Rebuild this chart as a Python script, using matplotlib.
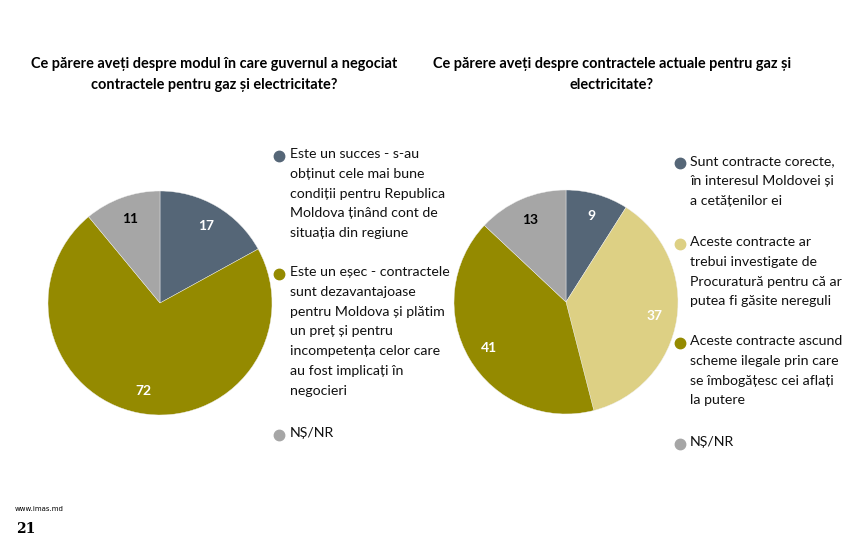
import matplotlib.pyplot as plt
from matplotlib.lines import Line2D

# --- date ---
left_title = "Ce părere aveți despre modul în care guvernul a negociat\ncontractele pentru gaz și electricitate?"
left_values = [17, 72, 11]
left_labels = [
    "Este un succes - s-au\nobținut cele mai bune\ncondiții pentru Republica\nMoldova ținând cont de\nsituația din regiune",
    "Este un eșec - contractele\nsunt dezavantajoase\npentru Moldova și plătim\nun preț și pentru\nincompetența celor care\nau fost implicați în\nnegocieri",
    "NȘ/NR",
]
right_title = "Ce părere aveți despre contractele actuale pentru gaz și\nelectricitate?"
right_values = [9, 37, 41, 13]
right_labels = [
    "Sunt contracte corecte,\nîn interesul Moldovei și\na cetățenilor ei",
    "Aceste contracte ar\ntrebui investigate de\nProcuratură pentru că ar\nputea fi găsite nereguli",
    "Aceste contracte ascund\nscheme ilegale prin care\nse îmbogățesc cei aflați\nla putere",
    "NȘ/NR",
]

# --- stil ---
SLATE = '#556677'
OLIVE = '#948A00'
GRAY = '#A6A6A6'
KHAKI = '#DDD084'
left_colors = [SLATE, OLIVE, GRAY]
right_colors = [SLATE, KHAKI, OLIVE, GRAY]
left_txt = ['white', 'white', 'black']
right_txt = ['white', 'white', 'white', 'black']

W, H = 846, 543
FONT = 'Lato'

fig = plt.figure(figsize=(W / 100, H / 100), dpi=100, facecolor='white')


def px(x, y):
    return x / W, 1 - y / H


def draw_pie(cx, cy, r, values, colors, txt_colors):
    ax = fig.add_axes([(cx - r) / W, 1 - (cy + r) / H, 2 * r / W, 2 * r / H])
    total = sum(values)
    wedges, _, autotexts = ax.pie(
        values, colors=colors, startangle=90, counterclock=False,
        autopct=lambda p: f"{p * total / 100:.0f}", pctdistance=0.8,
        wedgeprops={'linewidth': 0.3, 'edgecolor': '#f0f0f0'}, radius=1.0,
    )
    for t, c in zip(autotexts, txt_colors):
        t.set_color(c)
        t.set_fontsize(10)
        t.set_fontweight('bold')
        t.set_fontfamily(FONT)
    ax.set_xlim(-1, 1)
    ax.set_ylim(-1, 1)
    ax.set_aspect('equal')
    ax.set_axis_off()


def draw_legend(x_dot, x_txt, ys, labels, colors):
    for y, lab, col in zip(ys, labels, colors):
        fig.add_artist(Line2D([x_dot / W], [1 - (y + 1) / H], marker='o', markersize=7.5,
                              color=col, linestyle='none', transform=fig.transFigure))
        tx, ty = px(x_txt, y - 7)
        fig.text(tx, ty, lab, ha='left', va='top', fontsize=10.2, family=FONT,
                 color='#111111', linespacing=1.78)


# titluri
fig.text(*px(214, 74.5), left_title, ha='center', va='center', fontsize=10.45,
         fontweight='bold', family=FONT, linespacing=1.66)
fig.text(*px(612, 74.5), right_title, ha='center', va='center', fontsize=10.45,
         fontweight='bold', family=FONT, linespacing=1.66)

draw_pie(160, 303, 112, left_values, left_colors, left_txt)
draw_pie(566, 302, 112, right_values, right_colors, right_txt)

draw_legend(279, 290, [155, 273, 434], left_labels, left_colors)
draw_legend(680, 690, [162, 243, 342, 443], right_labels, right_colors)

# subsol
fig.text(*px(15, 509), "www.imas.md", ha='left', va='center', fontsize=5, family='DejaVu Sans')
fig.text(*px(16, 529), "21", ha='left', va='center', fontsize=10, fontweight='bold',
         family='DejaVu Serif')

fig.savefig('out.png', dpi=100, facecolor='white')
